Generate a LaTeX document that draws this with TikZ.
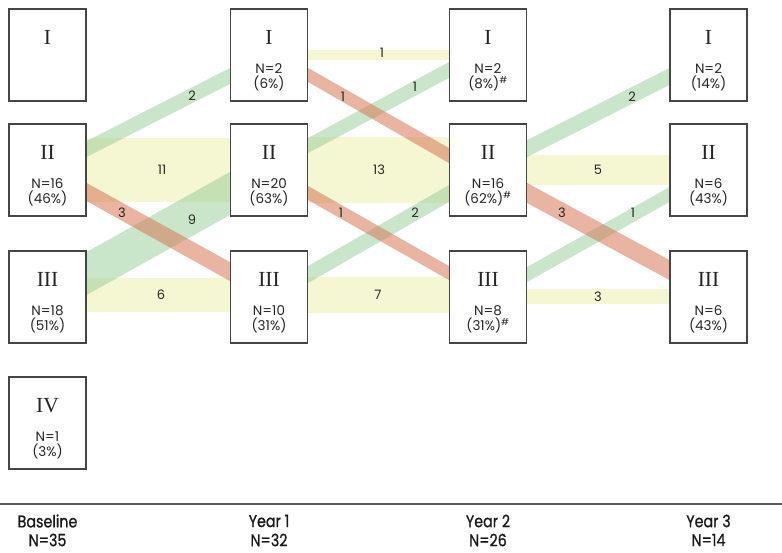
\documentclass[tikz,border=0pt]{standalone}
\usepackage{fontspec}
\setmainfont{Liberation Serif}
\newfontfamily\sansf{Poppins}
\newfontfamily\labf[FakeStretch=0.84,FakeBold=0.8]{Poppins}
\usetikzlibrary{calc,backgrounds}
\definecolor{gband}{RGB}{150,205,150}
\definecolor{yband}{RGB}{236,240,175}
\definecolor{rband}{RGB}{215,118,85}
\definecolor{boxgray}{RGB}{70,70,70}
\definecolor{axisgray}{RGB}{90,90,90}
\tikzset{
  box/.style={draw=boxgray, line width=1.2pt, fill=white, minimum width=77pt, minimum height=92pt, inner sep=0pt},
  num/.style={font=\fontsize{21.5}{21.5}\selectfont, inner sep=0pt, text=black!85},
  nt/.style={font=\sansf\fontsize{13.5}{14}\selectfont, inner sep=0pt, text=black!85},
  blab/.style={font=\sansf\fontsize{13}{13}\selectfont, inner sep=0pt, text=black!85},
  lab/.style={font=\labf\fontsize{17}{17}\selectfont, inner sep=0pt, text=black!90},
  gb/.style={fill=gband, fill opacity=0.5},
  yb/.style={fill=yband, fill opacity=0.55},
  rb/.style={fill=rband, fill opacity=0.55},
  axis/.style={draw=axisgray, line width=1.3pt}
}
% band: style, source, y1, y2, target, y3, y4
\newcommand\band[7]{%
  \fill[#1] (#2.east |- 0,#3) -- (#5.west |- 0,#6) -- (#5.west |- 0,#7) -- (#2.east |- 0,#4) -- cycle;}
\newcommand\stagebox[6]{%
  \node[box] (#1) at (#2,#3+46) {};
  \node[num] (#1-n) at ($(#1.north)+(0,29)$) {#4};
  \node[nt] (#1-c) at ($(#1.north)+(0,60)$) {#5};
  \node[nt] (#1-p) at ($(#1.north)+(0,75)$) {#6};}
\begin{document}
\begin{tikzpicture}[x=1pt,y=-1pt]
\useasboundingbox (0,0) rectangle (782,552);
% Baseline
\node[box] (B1) at (47.5,55) {};
\node[num] (B1-n) at ($(B1.north)+(0,29)$) {I};
\stagebox{B2}{47.5}{124}{II}{N=16}{(46\%)}
\stagebox{B3}{47.5}{251}{III}{N=18}{(51\%)}
\stagebox{B4}{47.5}{377}{IV}{N=1}{(3\%)}
% Year 1
\stagebox{P1}{269}{9}{I}{N=2}{(6\%)}
\stagebox{P2}{269}{124}{II}{N=20}{(63\%)}
\stagebox{P3}{269}{251}{III}{N=10}{(31\%)}
% Year 2
\stagebox{Q1}{488}{9}{I}{N=2}{(8\%)\textsuperscript{\#}}
\stagebox{Q2}{488}{124}{II}{N=16}{(62\%)\textsuperscript{\#}}
\stagebox{Q3}{488}{251}{III}{N=8}{(31\%)\textsuperscript{\#}}
% Year 3
\stagebox{R1}{708.5}{9}{I}{N=2}{(14\%)}
\stagebox{R2}{708.5}{124}{II}{N=6}{(43\%)}
\stagebox{R3}{708.5}{251}{III}{N=6}{(43\%)}
% bands
\begin{scope}[on background layer]
  % Baseline -> Year 1
  \band{yb}{B2}{138}{202}{P2}{138}{202}
  \band{yb}{B3}{278}{312}{P3}{278}{312}
  \band{gb}{B2}{141}{157}{P1}{68}{84}
  \band{gb}{B3}{252}{295}{P2}{172}{215}
  \band{rb}{B2}{183}{201}{P3}{262}{281}
  % Year 1 -> Year 2
  \band{yb}{P1}{50}{60}{Q1}{50}{60}
  \band{yb}{P2}{137}{203}{Q2}{137}{203}
  \band{yb}{P3}{277}{313}{Q3}{277}{313}
  \band{gb}{P2}{138}{153}{Q1}{62}{78}
  \band{gb}{P3}{266}{283}{Q2}{185}{202}
  \band{rb}{P1}{68}{82}{Q2}{148}{163}
  \band{rb}{P2}{186}{200}{Q3}{266}{280}
  % Year 2 -> Year 3
  \band{yb}{Q2}{155}{185}{R2}{155}{185}
  \band{yb}{Q3}{289}{304}{R3}{289}{304}
  \band{gb}{Q2}{140}{157}{R1}{68}{85}
  \band{gb}{Q3}{267}{282}{R2}{187}{202}
  \band{rb}{Q2}{183}{203}{R3}{260}{280}
\end{scope}
% band labels
\node[blab] (l1) at (192,96) {2};
\node[blab] (l2) at (162,170) {11};
\node[blab] (l3) at (122,213) {3};
\node[blab] (l4) at (192,220) {9};
\node[blab] (l5) at (161,295) {6};
\node[blab] (l6) at (382,53) {1};
\node[blab] (l7) at (343,97) {1};
\node[blab] (l8) at (415,87) {1};
\node[blab] (l9) at (379,170) {13};
\node[blab] (l10) at (341,213) {1};
\node[blab] (l11) at (415,213) {2};
\node[blab] (l12) at (378,295) {7};
\node[blab] (l13) at (632,97) {2};
\node[blab] (l14) at (598,170) {5};
\node[blab] (l15) at (562,213) {3};
\node[blab] (l16) at (633,213) {1};
\node[blab] (l17) at (598,297) {3};
% axis
\coordinate (axL) at (0,504);
\coordinate (axR) at (782,504);
\draw[axis] (axL) -- (axR);
\node[lab] (t0) at (B1.center |- 0,521) {Baseline};
\node[lab] (n0) at (B1.center |- 0,540) {N=35};
\node[lab] (t1) at (P1.center |- 0,521) {Year 1};
\node[lab] (n1) at (P1.center |- 0,540) {N=32};
\node[lab] (t2) at (Q1.center |- 0,521) {Year 2};
\node[lab] (n2) at (Q1.center |- 0,540) {N=26};
\node[lab] (t3) at (R1.center |- 0,521) {Year 3};
\node[lab] (n3) at (R1.center |- 0,540) {N=14};
\end{tikzpicture}
\end{document}
